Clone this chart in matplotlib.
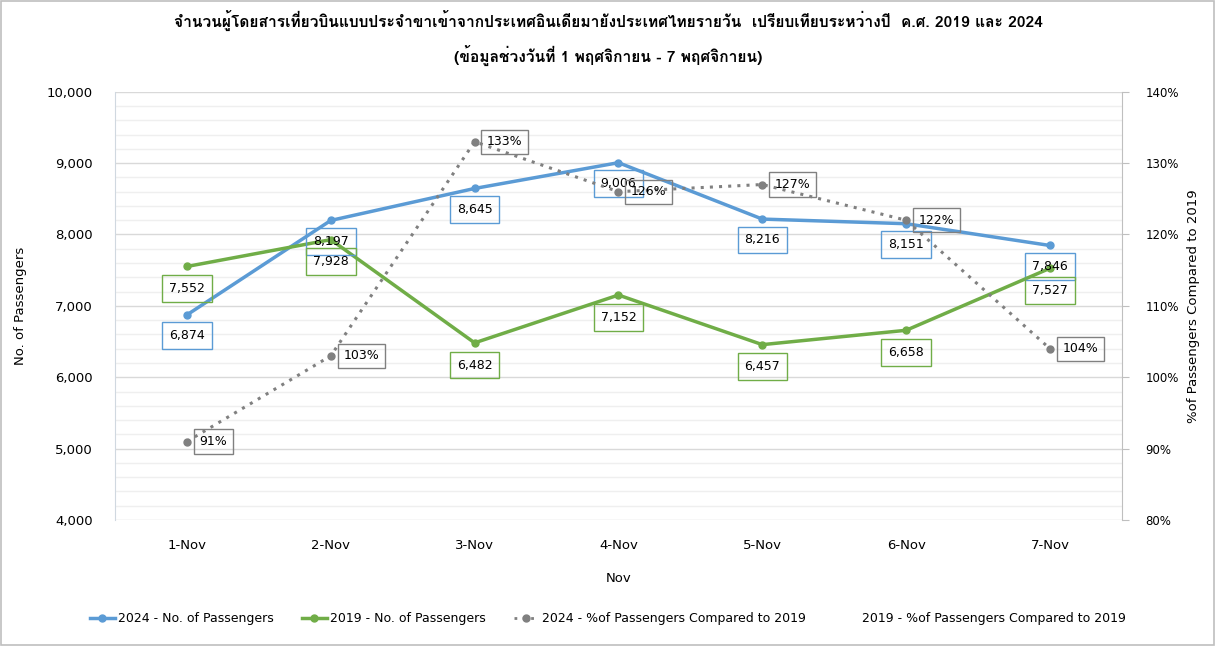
import numpy as np
import matplotlib
matplotlib.use("Agg")
import matplotlib.pyplot as plt
from matplotlib import font_manager
from matplotlib.ft2font import FT2Font
from matplotlib.lines import Line2D
from matplotlib.ticker import MultipleLocator, FuncFormatter

# data
days = ["1-Nov", "2-Nov", "3-Nov", "4-Nov", "5-Nov", "6-Nov", "7-Nov"]
pax_2024 = [6874, 8197, 8645, 9006, 8216, 8151, 7846]
pax_2019 = [7552, 7928, 6482, 7152, 6457, 6658, 7527]
pct_2024 = [91, 103, 133, 126, 127, 122, 104]

title = ("จำนวนผู้โดยสารเที่ยวบินแบบประจำขาเข้าจากประเทศอินเดียมายังประเทศไทยรายวัน  เปรียบเทียบระหว่างปี  ค.ศ. 2019 และ 2024\n"
         "(ข้อมูลช่วงวันที่ 1 พฤศจิกายน - 7 พฤศจิกายน)")

# find any installed font with thai glyphs for the title
thai_font = None
for f in font_manager.fontManager.ttflist:
    try:
        if 0x0E08 in FT2Font(f.fname).get_charmap():
            thai_font = f.name
            break
    except Exception:
        pass

plt.rcParams['font.family'] = ['DejaVu Sans']
blue = "#5B9BD5"
green = "#70AD47"
gray = "#808080"

fig = plt.figure(figsize=(12.16, 6.46), dpi=100)
ax = fig.add_axes([0.0946, 0.195, 0.828, 0.663])
ax2 = ax.twinx()

x = np.arange(len(days))

ax.plot(x, pax_2024, color=blue, lw=2.5, marker="o", ms=5, zorder=3)
ax.plot(x, pax_2019, color=green, lw=2.5, marker="o", ms=5, zorder=3)
ax2.plot(x, pct_2024, color=gray, lw=2.2, ls=(0, (1, 2)), marker="o", ms=5, zorder=3)

ax.set_xlim(-0.5, 6.5)
ax.set_ylim(4000, 10000)
ax2.set_ylim(80, 140)

ax.yaxis.set_major_locator(MultipleLocator(1000))
ax.yaxis.set_minor_locator(MultipleLocator(200))
ax.yaxis.set_major_formatter(FuncFormatter(lambda v, p: f"{v:,.0f}"))
ax2.yaxis.set_major_locator(MultipleLocator(10))
ax2.yaxis.set_major_formatter(FuncFormatter(lambda v, p: f"{v:.0f}%"))

ax.grid(which="major", axis="y", color="#D9D9D9", lw=1)
ax.grid(which="minor", axis="y", color="#EFEFEF", lw=1)
ax.set_axisbelow(True)

ax.set_xticks(x)
ax.set_xticklabels(days)
ax.tick_params(axis="x", length=0, pad=14, labelsize=9.5)
ax.tick_params(axis="y", which="both", length=0, pad=16, labelsize=9.5)
ax2.tick_params(axis="y", length=5, color="#BFBFBF", pad=12, labelsize=8.5)

for a in (ax, ax2):
    a.spines["top"].set_visible(False)
    a.spines["bottom"].set_visible(False)
ax.spines["left"].set_color("#D0D8E0")
ax.spines["right"].set_visible(False)
ax2.spines["left"].set_visible(False)
ax2.spines["right"].set_color("#BFBFBF")

ax.set_xlabel("Nov", fontsize=9.5, labelpad=14)
ax.set_ylabel("No. of Passengers", fontsize=9.5, labelpad=14)
ax2.set_ylabel("%of Passengers Compared to 2019", fontsize=9.5, labelpad=6)

# data labels
for xi, v in zip(x, pax_2024):
    ax.annotate(f"{v:,}", (xi, v), xytext=(0, -15), textcoords="offset points",
                ha="center", va="center", fontsize=9, zorder=4,
                bbox=dict(boxstyle="square,pad=0.55", fc="none", ec=blue, lw=1))
for xi, v in zip(x, pax_2019):
    ax.annotate(f"{v:,}", (xi, v), xytext=(0, -16), textcoords="offset points",
                ha="center", va="center", fontsize=9, zorder=4,
                bbox=dict(boxstyle="square,pad=0.55", fc="none", ec=green, lw=1))
for xi, v in zip(x, pct_2024):
    ax2.annotate(f"{v}%", (xi, v), xytext=(9, 0), textcoords="offset points",
                 ha="left", va="center", fontsize=9, zorder=4,
                 bbox=dict(boxstyle="square,pad=0.45", fc="none", ec=gray, lw=1))

title_fam = [thai_font, "DejaVu Sans"] if thai_font else ["DejaVu Sans"]
fig.text(0.5, 0.941, title, ha="center", va="center", fontsize=11.2,
         fontweight="bold", family=title_fam, linespacing=1.85)

handles = [
    Line2D([], [], color=blue, lw=2.5, marker="o", ms=5),
    Line2D([], [], color=green, lw=2.5, marker="o", ms=5),
    Line2D([], [], color=gray, lw=2, ls=(0, (1, 2)), marker="o", ms=5),
    Line2D([], [], color="none"),
]
labels = ["2024 - No. of Passengers", "2019 - No. of Passengers",
          "2024 - %of Passengers Compared to 2019", "2019 - %of Passengers Compared to 2019"]
fig.legend(handles, labels, loc="center", bbox_to_anchor=(0.5, 0.042), ncol=4,
           frameon=False, fontsize=9, handlelength=2.0, handletextpad=0.3, columnspacing=2.2)

fig.patches.append(plt.Rectangle((0.001, 0.002), 0.997, 0.996, transform=fig.transFigure,
                                 fill=False, ec="#BFBFBF", lw=1.2))

fig.savefig("out.png", dpi=100)
